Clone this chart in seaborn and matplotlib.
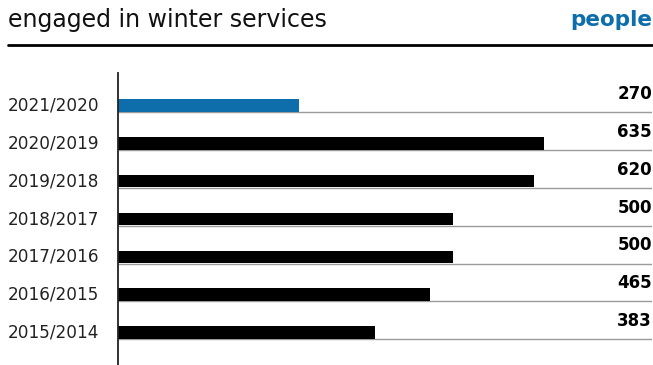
import matplotlib
matplotlib.use("Agg")
import matplotlib.pyplot as plt
import matplotlib.transforms as mtransforms
import seaborn as sns
import pandas as pd

seasons = ["2021/2020", "2020/2019", "2019/2018", "2018/2017", "2017/2016", "2016/2015", "2015/2014"]
people = [270, 635, 620, 500, 500, 465, 383]
highlight = ["current", "past", "past", "past", "past", "past", "past"]

title = "engaged in winter services"
unit = "people"

BLUE = "#0d6eab"
df = pd.DataFrame({"season": seasons, "people": people, "kind": highlight})

sns.set_style("white")
plt.rcParams["font.family"] = ["DejaVu Sans"]

W, H = 653, 365
fig = plt.figure(figsize=(W / 100, H / 100), dpi=100)
ax_left, ax_right = 118 / W, 652 / W
ax_top, ax_bot = 73 / H, 365 / H
ax = fig.add_axes([ax_left, 1 - ax_bot, ax_right - ax_left, ax_bot - ax_top])

bar_h = 0.33
sns.barplot(data=df, y="season", x="people", hue="kind", orient="h",
            palette={"current": BLUE, "past": "black"}, width=bar_h,
            dodge=False, legend=False, ax=ax, saturation=1, linewidth=0)

ax.set_xlim(0, 796)
ax.set_ylim(6.86, -0.86)
ax.set_xlabel("")
ax.set_ylabel("")
ax.set_xticks([])
ax.set_yticks([])
for s in ["top", "right", "bottom"]:
    ax.spines[s].set_visible(False)
ax.spines["left"].set_color("#222222")
ax.spines["left"].set_linewidth(1.3)

trans_fig_data = mtransforms.blended_transform_factory(fig.transFigure, ax.transData)
trans_ax_data = mtransforms.blended_transform_factory(ax.transAxes, ax.transData)
for i, (s, v) in enumerate(zip(seasons, people)):
    ax.axhline(i + bar_h / 2 + 0.015, xmin=0, xmax=1, color="#9a9a9a", lw=1.0, zorder=0)
    ax.text(1.0, i - 0.3, f"{v}", transform=trans_ax_data,
            ha="right", va="center", fontsize=12, fontweight="bold", color="black")
    ax.text(8 / W, i, s, transform=trans_fig_data, ha="left", va="center",
            fontsize=12.2, color="#222222")

fig.text(8 / W, 1 - 20 / H, title, ha="left", va="center", fontsize=17, color="#111111")
fig.text(652 / W, 1 - 20 / H, unit, ha="right", va="center", fontsize=15.5,
         fontweight="bold", color=BLUE)
fig.add_artist(plt.Line2D([8 / W, 652 / W], [1 - 45 / H, 1 - 45 / H], color="black", lw=2,
                          transform=fig.transFigure))

fig.savefig("out.png", dpi=100)
